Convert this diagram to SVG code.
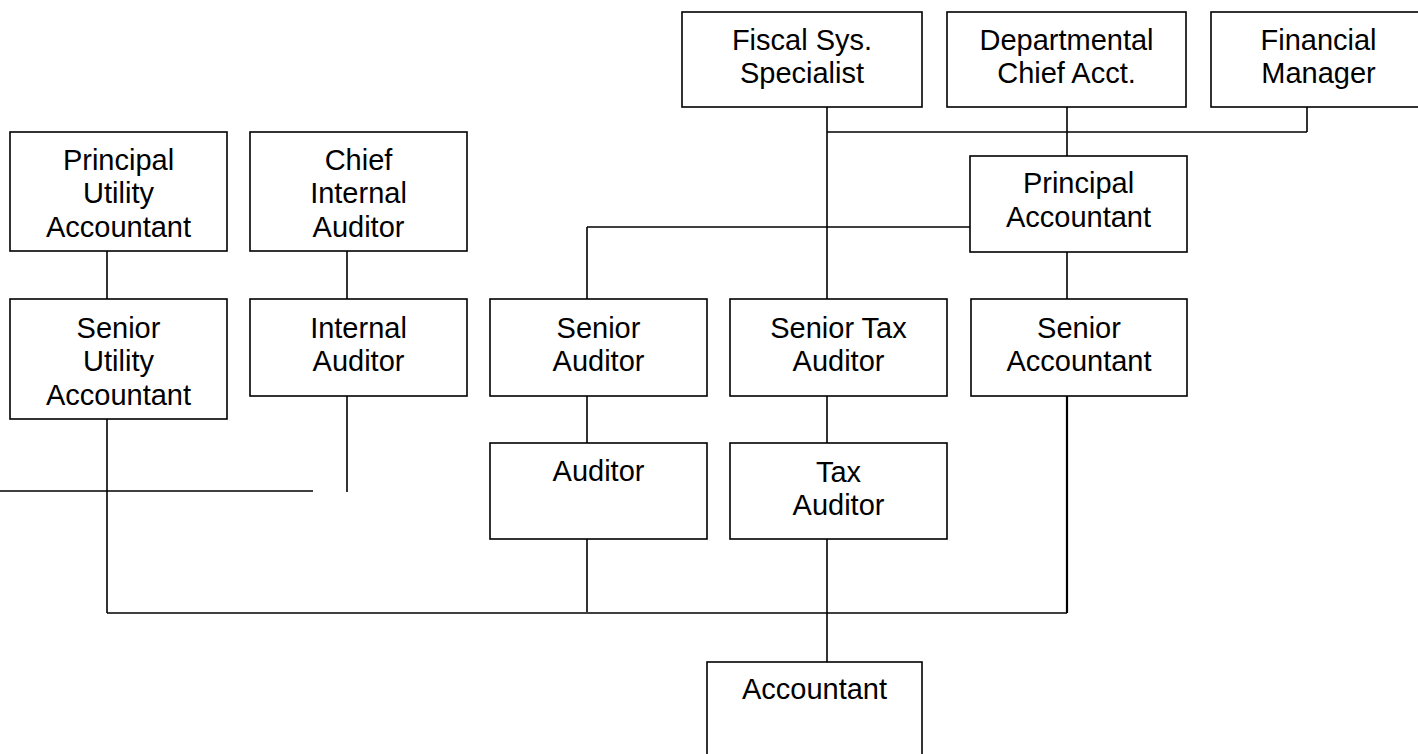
<svg xmlns="http://www.w3.org/2000/svg" width="1418" height="754" viewBox="0 0 1418 754">
<style>
.box{fill:#fff;stroke:#000;stroke-width:1.6}
.t{font-family:"Liberation Sans",Arial,sans-serif;font-size:29px;fill:#000;text-anchor:middle}
.c{stroke:#000;stroke-width:1.6;fill:none}
</style>
<rect width="1418" height="754" fill="#fff"/>
<g id="connectors">
<line class="c" x1="827" y1="107" x2="827" y2="299"/>
<line class="c" x1="827" y1="132" x2="1307" y2="132"/>
<line class="c" x1="1307" y1="107" x2="1307" y2="132"/>
<line class="c" x1="1067" y1="107" x2="1067" y2="156"/>
<line class="c" x1="587" y1="227" x2="970" y2="227"/>
<line class="c" x1="587" y1="227" x2="587" y2="299"/>
<line class="c" x1="1067" y1="252" x2="1067" y2="299"/>
<line class="c" x1="587" y1="396" x2="587" y2="443"/>
<line class="c" x1="827" y1="396" x2="827" y2="443"/>
<line class="c" x1="587" y1="539" x2="587" y2="612"/>
<line class="c" x1="827" y1="539" x2="827" y2="662"/>
<line class="c" x1="1067" y1="396" x2="1067" y2="613" style="stroke-width:2.2"/>
<line class="c" x1="107" y1="613" x2="1067" y2="613"/>
<line class="c" x1="107" y1="419" x2="107" y2="613"/>
<line class="c" x1="0" y1="491" x2="313" y2="491"/>
<line class="c" x1="347" y1="396" x2="347" y2="492"/>
<line class="c" x1="107" y1="251" x2="107" y2="299"/>
<line class="c" x1="347" y1="251" x2="347" y2="299"/>
</g>
<g id="fiscal">
<rect class="box" x="682" y="12" width="240" height="95"/>
<text class="t" x="802" y="50">Fiscal Sys.</text>
<text class="t" x="802" y="83">Specialist</text>
</g>
<g id="departmental">
<rect class="box" x="947" y="12" width="239" height="95"/>
<text class="t" x="1066.5" y="50">Departmental</text>
<text class="t" x="1066.5" y="83">Chief Acct.</text>
</g>
<g id="financial">
<rect class="box" x="1211" y="12" width="215" height="95"/>
<text class="t" x="1318.5" y="50">Financial</text>
<text class="t" x="1318.5" y="83">Manager</text>
</g>
<g id="principal-accountant">
<rect class="box" x="970" y="156" width="217" height="96"/>
<text class="t" x="1078.5" y="193">Principal</text>
<text class="t" x="1078.5" y="227">Accountant</text>
</g>
<g id="principal-utility">
<rect class="box" x="10" y="132" width="217" height="119"/>
<text class="t" x="118.5" y="170">Principal</text>
<text class="t" x="118.5" y="203">Utility</text>
<text class="t" x="118.5" y="237">Accountant</text>
</g>
<g id="chief-internal">
<rect class="box" x="250" y="132" width="217" height="119"/>
<text class="t" x="358.5" y="170">Chief</text>
<text class="t" x="358.5" y="203">Internal</text>
<text class="t" x="358.5" y="237">Auditor</text>
</g>
<g id="senior-utility">
<rect class="box" x="10" y="299" width="217" height="120"/>
<text class="t" x="118.5" y="338">Senior</text>
<text class="t" x="118.5" y="371">Utility</text>
<text class="t" x="118.5" y="405">Accountant</text>
</g>
<g id="internal-auditor">
<rect class="box" x="250" y="299" width="217" height="97"/>
<text class="t" x="358.5" y="338">Internal</text>
<text class="t" x="358.5" y="371">Auditor</text>
</g>
<g id="senior-auditor">
<rect class="box" x="490" y="299" width="217" height="97"/>
<text class="t" x="598.5" y="338">Senior</text>
<text class="t" x="598.5" y="371">Auditor</text>
</g>
<g id="senior-tax-auditor">
<rect class="box" x="730" y="299" width="217" height="97"/>
<text class="t" x="838.5" y="338">Senior Tax</text>
<text class="t" x="838.5" y="371">Auditor</text>
</g>
<g id="senior-accountant">
<rect class="box" x="971" y="299" width="216" height="97"/>
<text class="t" x="1079" y="338">Senior</text>
<text class="t" x="1079" y="371">Accountant</text>
</g>
<g id="auditor">
<rect class="box" x="490" y="443" width="217" height="96"/>
<text class="t" x="598.5" y="481">Auditor</text>
</g>
<g id="tax-auditor">
<rect class="box" x="730" y="443" width="217" height="96"/>
<text class="t" x="838.5" y="482">Tax</text>
<text class="t" x="838.5" y="515">Auditor</text>
</g>
<g id="accountant">
<rect class="box" x="707" y="662" width="215" height="100"/>
<text class="t" x="814.5" y="699">Accountant</text>
</g>
</svg>
